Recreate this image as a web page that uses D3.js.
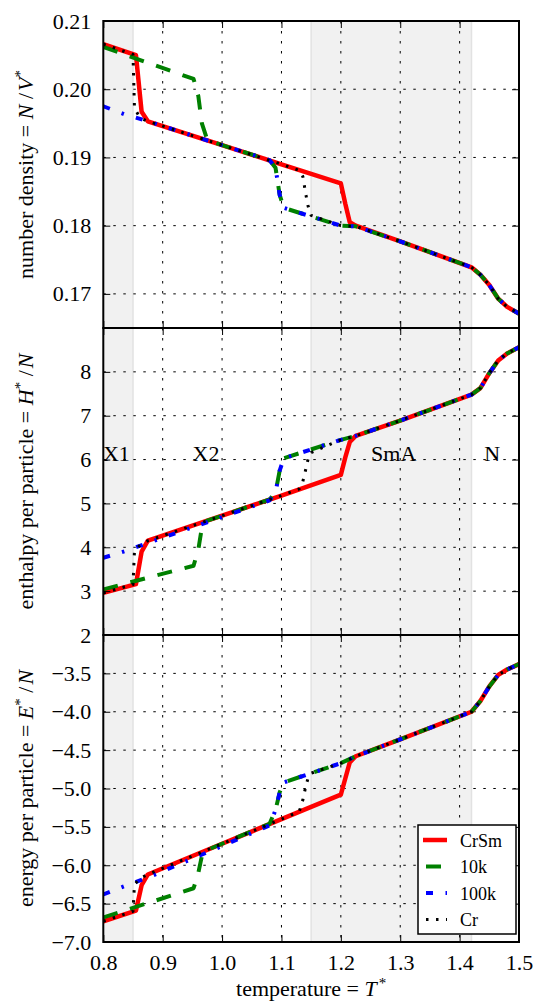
<!DOCTYPE html>
<html>
<head>
<meta charset="utf-8">
<script src="https://cdn.jsdelivr.net/npm/d3@7"></script>
<style>
  body { margin: 0; background: #fff; }
  text { font-family: 'Liberation Serif', 'Times New Roman', serif; fill: #000; }
</style>
</head>
<body>
<div id="chart"></div>
<script>
// temperature grid of each run (same grid for the three quantities)
const tempsCrSm = [0.80, 0.855, 0.8645, 0.875, 1.00, 1.10, 1.20, 1.2075, 1.215, 1.225, 1.30, 1.42, 1.435, 1.45, 1.465, 1.48, 1.50]
const tempsTenK = [0.80, 0.952, 0.960, 0.966, 0.975, 1.00, 1.08, 1.09, 1.097, 1.104, 1.20, 1.225, 1.30, 1.42, 1.435, 1.45, 1.465, 1.48, 1.50]
const tempsHundredK = [0.80, 0.8365, 0.875, 1.00, 1.08, 1.09, 1.097, 1.104, 1.20, 1.225, 1.30, 1.42, 1.435, 1.45, 1.465, 1.48, 1.50]
const tempsCr = [0.80, 0.850, 0.8525, 0.862, 0.875, 1.00, 1.10, 1.130, 1.136, 1.141, 1.145, 1.150, 1.20, 1.225, 1.30, 1.42, 1.435, 1.45, 1.465, 1.48, 1.50]

// number density N/V*
const densityCrSm = [0.2066, 0.2050, 0.1967, 0.1953, 0.1918, 0.1890, 0.1862, 0.1832, 0.1805, 0.1800, 0.1777, 0.1739, 0.1728, 0.1713, 0.1693, 0.1681, 0.1671]
const densityTenK = [0.2062, 0.2015, 0.1990, 0.1950, 0.1926, 0.1918, 0.1896, 0.1885, 0.1845, 0.1826, 0.1800, 0.1799, 0.1777, 0.1739, 0.1728, 0.1713, 0.1693, 0.1681, 0.1671]
const densityHundredK = [0.1975, 0.1963, 0.1953, 0.1918, 0.1896, 0.1885, 0.1845, 0.1826, 0.1800, 0.1799, 0.1777, 0.1739, 0.1728, 0.1713, 0.1693, 0.1681, 0.1671]
const densityCr = [0.2066, 0.2051, 0.1972, 0.1958, 0.1953, 0.1918, 0.1890, 0.1881, 0.1872, 0.1846, 0.1828, 0.1815, 0.1800, 0.1799, 0.1777, 0.1739, 0.1728, 0.1713, 0.1693, 0.1681, 0.1671]

// enthalpy per particle H*/N
const enthalpyCrSm = [2.96, 3.16, 3.90, 4.15, 4.72, 5.18, 5.65, 6.05, 6.40, 6.54, 6.89, 7.48, 7.63, 7.97, 8.26, 8.42, 8.56]
const enthalpyTenK = [3.04, 3.58, 3.95, 4.45, 4.61, 4.72, 5.09, 5.25, 5.75, 6.03, 6.45, 6.54, 6.89, 7.48, 7.63, 7.97, 8.26, 8.42, 8.56]
const enthalpyHundredK = [3.76, 3.91, 4.10, 4.69, 5.07, 5.25, 5.75, 6.03, 6.45, 6.54, 6.89, 7.48, 7.63, 7.97, 8.26, 8.42, 8.56]
const enthalpyCr = [2.96, 3.15, 3.92, 4.05, 4.15, 4.72, 5.18, 5.33, 5.50, 5.78, 6.02, 6.16, 6.45, 6.54, 6.89, 7.48, 7.63, 7.97, 8.26, 8.42, 8.56]

// energy per particle E*/N
const energyCrSm = [-6.73, -6.59, -6.26, -6.12, -5.72, -5.40, -5.08, -4.87, -4.66, -4.58, -4.36, -4.00, -3.86, -3.67, -3.52, -3.45, -3.38]
const energyTenK = [-6.68, -6.30, -6.10, -5.88, -5.80, -5.72, -5.46, -5.28, -5.05, -4.92, -4.67, -4.58, -4.36, -4.00, -3.86, -3.67, -3.52, -3.45, -3.38]
const energyHundredK = [-6.38, -6.27, -6.16, -5.75, -5.48, -5.28, -5.05, -4.92, -4.67, -4.58, -4.36, -4.00, -3.86, -3.67, -3.52, -3.45, -3.38]
const energyCr = [-6.73, -6.60, -6.25, -6.17, -6.12, -5.72, -5.40, -5.30, -5.15, -4.97, -4.86, -4.80, -4.67, -4.58, -4.36, -4.00, -3.86, -3.67, -3.52, -3.45, -3.38]

const tempTicks = [0.8, 0.9, 1.0, 1.1, 1.2, 1.3, 1.4, 1.5]
const densityTicks = [0.17, 0.18, 0.19, 0.20, 0.21]
const enthalpyTicks = [2, 3, 4, 5, 6, 7, 8]
const energyTicks = [-7.0, -6.5, -6.0, -5.5, -5.0, -4.5, -4.0, -3.5]

const shadedRanges = [[0.8, 0.85], [1.15, 1.42]]
const phaseNames = ['X1', 'X2', 'SmA', 'N']
const phaseTemps = [0.822, 0.973, 1.289, 1.455]

const width = 538
const height = 1002
const plotLeft = 103.3
const plotRight = 519
const panelTop = 21
const panelHeight = 307
const tickLen = 7
const fontFamily = 'Liberation Serif'

const series = [
  { name: 'CrSm', temps: tempsCrSm, density: densityCrSm, enthalpy: enthalpyCrSm, energy: energyCrSm, color: '#ff0000', lw: 4.5, dash: null },
  { name: '10k', temps: tempsTenK, density: densityTenK, enthalpy: enthalpyTenK, energy: energyTenK, color: '#008000', lw: 4, dash: '15,13' },
  { name: '100k', temps: tempsHundredK, density: densityHundredK, enthalpy: enthalpyHundredK, energy: energyHundredK, color: '#0000ff', lw: 4, dash: '7,12.5,2.5,12.5' },
  { name: 'Cr', temps: tempsCr, density: densityCr, enthalpy: enthalpyCr, energy: energyCr, color: '#000000', lw: 3, dash: '2.5,7.5' },
]

const panels = [
  { key: 'density', domain: [0.165, 0.21], ticks: densityTicks, fmt: d3.format('.2f'), label: ['number density = ', 'N', null, ' /', 'V', '*'] },
  { key: 'enthalpy', domain: [2, 9], ticks: enthalpyTicks, fmt: d3.format('d'), label: ['enthalpy per particle = ', 'H', '*', ' /', 'N', null] },
  { key: 'energy', domain: [-7, -3], ticks: energyTicks, fmt: d3.format('.1f'), label: ['energy per particle = ', 'E', '*', ' /', 'N', null] },
]

const svg = d3.select('#chart').append('svg')
  .attr('width', width).attr('height', height)
  .attr('font-family', fontFamily)
svg.append('rect').attr('width', width).attr('height', height).attr('fill', '#fff')

const xScale = d3.scaleLinear().domain([0.8, 1.5]).range([plotLeft, plotRight])

// plain text, italic letter, superscript star
const addMathLabel = (sel, [plain, ital1, sup1, slash, ital2, sup2]) => {
  sel.append('tspan').text(plain)
  sel.append('tspan').attr('font-style', 'italic').text(ital1)
  if (sup1) sel.append('tspan').attr('font-size', 15).attr('dy', -8).text(sup1)
  sel.append('tspan').attr('dy', sup1 ? 8 : 0).text(slash)
  sel.append('tspan').attr('font-style', 'italic').attr('dx', 2).text(ital2)
  if (sup2) sel.append('tspan').attr('font-size', 15).attr('dy', -8).text(sup2)
}

panels.forEach((p, i) => {
  const y0 = panelTop + i * panelHeight
  const y1 = y0 + panelHeight
  const yScale = d3.scaleLinear().domain(p.domain).range([y1, y0])
  const g = svg.append('g').attr('class', `panel panel-${p.key}`)

  g.append('clipPath').attr('id', `clip-${p.key}`)
    .append('rect').attr('x', plotLeft).attr('y', y0).attr('width', plotRight - plotLeft).attr('height', panelHeight)

  // shaded phase regions
  g.append('g').selectAll('rect').data(shadedRanges).join('rect')
    .attr('x', d => xScale(d[0]))
    .attr('y', y0)
    .attr('width', d => xScale(d[1]) - xScale(d[0]))
    .attr('height', panelHeight)
    .attr('fill', '#f1f1f1')
  g.append('g').selectAll('line').data(shadedRanges.flat().filter(t => t > 0.8))
    .join('line')
    .attr('x1', d => xScale(d)).attr('x2', d => xScale(d))
    .attr('y1', y0).attr('y2', y1)
    .attr('stroke', '#e2e2e2').attr('stroke-width', 1.5)

  // dotted grid
  const grid = g.append('g').attr('class', 'grid')
  grid.selectAll('line.gx').data(tempTicks.slice(1, -1)).join('line')
    .attr('class', 'gx')
    .attr('x1', d => xScale(d)).attr('x2', d => xScale(d))
    .attr('y1', y0).attr('y2', y1)
  grid.selectAll('line.gy').data(p.ticks.filter(t => t > p.domain[0] && t < p.domain[1])).join('line')
    .attr('class', 'gy')
    .attr('x1', plotLeft).attr('x2', plotRight)
    .attr('y1', d => yScale(d)).attr('y2', d => yScale(d))
  grid.selectAll('line')
    .attr('stroke', '#000').attr('stroke-width', 1).attr('stroke-dasharray', '2.5,7.5')

  if (p.key === 'enthalpy') {
    g.append('g').selectAll('text').data(phaseNames).join('text')
      .attr('x', (d, j) => xScale(phaseTemps[j]))
      .attr('y', yScale(6) + 1)
      .attr('text-anchor', 'middle')
      .attr('font-size', 22)
      .text(d => d)
  }

  const line = d3.line()
    .x(d => xScale(d[0]))
    .y(d => yScale(d[1]))

  g.append('g').attr('clip-path', `url(#clip-${p.key})`)
    .selectAll('path').data(series).join('path')
    .attr('d', s => line(s.temps.map((t, j) => [t, s[p.key][j]])))
    .attr('fill', 'none')
    .attr('stroke', s => s.color)
    .attr('stroke-width', s => s.lw)
    .attr('stroke-dasharray', s => s.dash)
    .attr('stroke-linejoin', 'round')

  // inward ticks on all four sides
  const yLeft = g.append('g').attr('transform', `translate(${plotLeft},0)`)
    .call(d3.axisLeft(yScale).tickValues(p.ticks).tickSize(-tickLen).tickPadding(12).tickFormat(p.fmt))
    .attr('font-family', fontFamily)
  yLeft.select('.domain').remove()
  yLeft.selectAll('.tick text').attr('font-size', 22)
  if (p.key === 'energy') yLeft.selectAll('.tick text').text(d => p.fmt(d).replace('-', '\u2212'))

  const yRight = g.append('g').attr('transform', `translate(${plotRight},0)`)
    .call(d3.axisRight(yScale).tickValues(p.ticks).tickSize(-tickLen).tickFormat(''))
  yRight.select('.domain').remove()

  const xTop = g.append('g').attr('transform', `translate(0,${y0})`)
    .call(d3.axisTop(xScale).tickValues(tempTicks).tickSize(-tickLen).tickFormat(''))
  xTop.select('.domain').remove()

  const xBottom = g.append('g').attr('transform', `translate(0,${y1})`)
    .call(d3.axisBottom(xScale).tickValues(tempTicks).tickSize(-tickLen).tickPadding(12)
      .tickFormat(i === panels.length - 1 ? d3.format('.1f') : ''))
    .attr('font-family', fontFamily)
  xBottom.select('.domain').remove()
  xBottom.selectAll('.tick text').attr('font-size', 22)

  g.selectAll('.tick line').attr('stroke', '#000').attr('stroke-width', 1)

  g.append('rect')
    .attr('x', plotLeft).attr('y', y0)
    .attr('width', plotRight - plotLeft).attr('height', panelHeight)
    .attr('fill', 'none').attr('stroke', '#000').attr('stroke-width', 2)

  const ylab = g.append('text')
    .attr('transform', `translate(33,${(y0 + y1) / 2}) rotate(-90)`)
    .attr('text-anchor', 'middle')
    .attr('font-size', 22)
  addMathLabel(ylab, p.label)
})

// x label
const xlab = svg.append('text')
  .attr('x', (plotLeft + plotRight) / 2)
  .attr('y', 996)
  .attr('text-anchor', 'middle')
  .attr('font-size', 22)
xlab.append('tspan').text('temperature = ')
xlab.append('tspan').attr('font-style', 'italic').text('T')
xlab.append('tspan').attr('font-size', 15).attr('dy', -8).attr('dx', 2).text('*')

// legend in the bottom panel
const legendX = 418
const legendY = 825
const legend = svg.append('g').attr('class', 'legend')
legend.append('rect')
  .attr('x', legendX).attr('y', legendY)
  .attr('width', 98).attr('height', 109)
  .attr('fill', '#fff').attr('stroke', '#000').attr('stroke-width', 1.5)
const items = legend.selectAll('g.item').data(series).join('g')
  .attr('class', 'item')
  .attr('transform', (d, i) => `translate(${legendX},${legendY + 15 + i * 26.5})`)
items.append('line')
  .attr('x1', 5).attr('x2', 29)
  .attr('stroke', d => d.color)
  .attr('stroke-width', d => d.lw)
  .attr('stroke-dasharray', d => d.dash)
  .attr('stroke-dashoffset', d => (d.dash ? -3 : 0))
items.append('text')
  .attr('x', 42).attr('y', 6.5)
  .attr('font-size', 18)
  .text(d => d.name)
</script>
</body>
</html>
